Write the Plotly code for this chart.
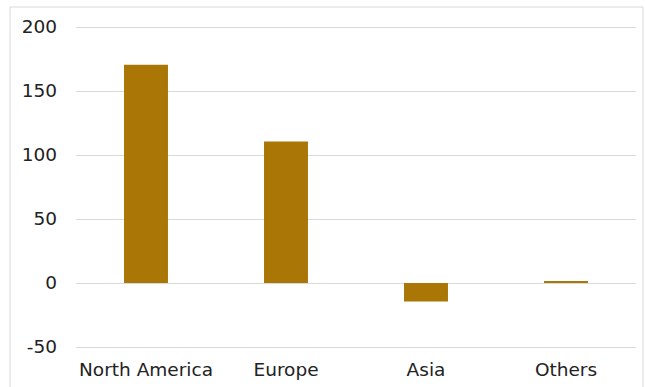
import plotly.graph_objects as go

categories = ["North America", "Europe", "Asia", "Others"]
values = [170.5, 110.5, -14.5, 1.5]
y_ticks = [-50, 0, 50, 100, 150, 200]
y_tick_labels = ["-50", "0", "50", "100", "150", "200"]

W, H = 645, 387
ml, mr, mt, mb = 76, 9, 24, 37
pw = W - ml - mr
ph = H - mt - mb

fig = go.Figure(go.Bar(
    x=list(range(len(categories))), y=values,
    marker=dict(color="#AA7605", line=dict(width=0)),
    width=0.314,
))

fig.update_layout(
    width=W, height=H,
    margin=dict(l=ml, r=mr, t=mt, b=mb, pad=0, autoexpand=False),
    paper_bgcolor="white", plot_bgcolor="white",
    font=dict(family="DejaVu Sans", size=18.5, color="#222222"),
    showlegend=False,
    xaxis=dict(
        range=[-0.5, 3.5], tickvals=list(range(len(categories))), ticktext=categories,
        showgrid=False, zeroline=False, showline=False, ticks="",
        ticklabelstandoff=6, automargin=False,
        tickfont=dict(size=18.5, color="#222222"),
    ),
    yaxis=dict(
        range=[-52.34, 202.34], tickvals=y_ticks, ticktext=y_tick_labels,
        showgrid=True, gridcolor="#D9D9D9", gridwidth=1,
        zeroline=True, zerolinecolor="#D9D9D9", zerolinewidth=1,
        showline=False, ticks="", ticklabelstandoff=18, automargin=False,
        tickfont=dict(size=18.5, color="#222222"),
    ),
    shapes=[dict(
        type="rect", xref="paper", yref="paper",
        x0=(10 - ml) / pw, x1=(643 - ml) / pw,
        y0=(H - mb - 400) / ph, y1=(H - mb - 7) / ph,
        line=dict(color="#D9D9D9", width=1), fillcolor="rgba(0,0,0,0)", layer="below",
    )],
)

fig.write_html("out.html")
